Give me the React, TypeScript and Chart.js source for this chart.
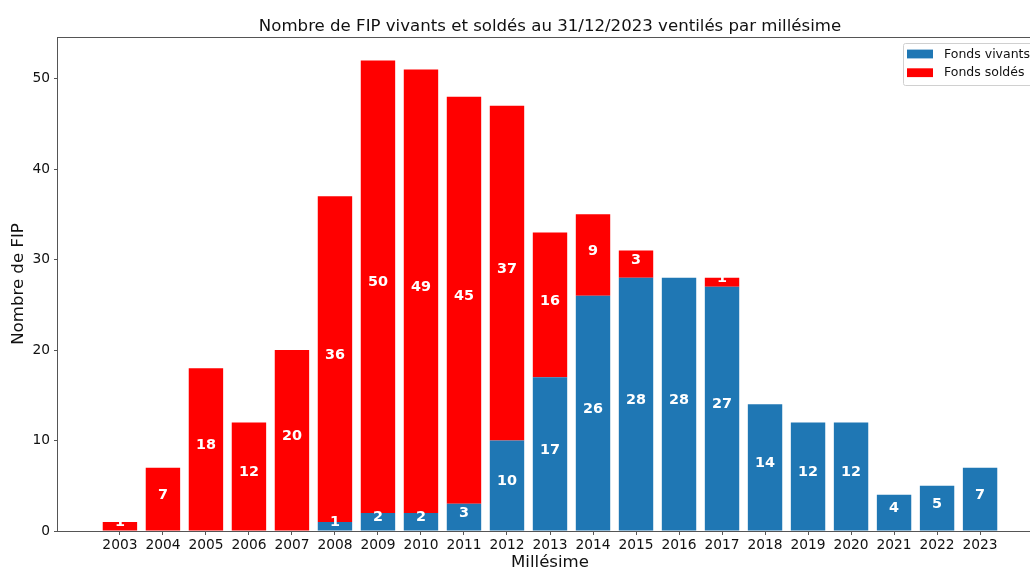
import React, { useEffect, useRef } from "react";
import { Chart, registerables } from "chart.js";

Chart.register(...registerables);

// ---- Data ----
const years = [2003, 2004, 2005, 2006, 2007, 2008, 2009, 2010, 2011, 2012, 2013, 2014, 2015, 2016, 2017, 2018, 2019, 2020, 2021, 2022, 2023];
const vivants = [0, 0, 0, 0, 0, 1, 2, 2, 3, 10, 17, 26, 28, 28, 27, 14, 12, 12, 4, 5, 7];
const soldes = [1, 7, 18, 12, 20, 36, 50, 49, 45, 37, 16, 9, 3, 0, 1, 0, 0, 0, 0, 0, 0];
const yTicks = [0, 10, 20, 30, 40, 50];
const seriesLabels = ["Fonds vivants", "Fonds soldés"];
const seriesColors = ["#1f77b4", "#ff0000"];
const chartTitle = "Nombre de FIP vivants et soldés au 31/12/2023 ventilés par millésime";
const xTitle = "Millésime";
const yTitle = "Nombre de FIP";

const FONT = '"DejaVu Sans", "Liberation Sans", sans-serif';
const CW = 1060;
const CH = 575;

const decorPlugin = {
  id: "decor",
  afterDatasetsDraw(chart: any) {
    const ctx = chart.ctx as CanvasRenderingContext2D;
    const { left, right, top, bottom } = chart.chartArea;
    ctx.save();

    // value labels
    ctx.font = `bold 14.4px ${FONT}`;
    ctx.fillStyle = "#ffffff";
    ctx.textAlign = "center";
    ctx.textBaseline = "middle";
    chart.data.datasets.forEach((ds: any, i: number) => {
      const meta = chart.getDatasetMeta(i);
      meta.data.forEach((bar: any, j: number) => {
        const v = ds.data[j].y;
        if (!v) return;
        const p = bar.getProps(["x", "y", "base"], true);
        ctx.fillText(String(v), p.x, (p.y + p.base) / 2 - 4);
      });
    });

    // spines
    ctx.strokeStyle = "#555";
    ctx.lineWidth = 1;
    ctx.strokeRect(Math.round(left) - 0.5, Math.round(top) + 0.5, Math.round(right - left), Math.round(bottom - top));

    // title
    ctx.fillStyle = "#111";
    ctx.font = `16.6px ${FONT}`;
    ctx.textAlign = "center";
    ctx.textBaseline = "alphabetic";
    ctx.fillText(chartTitle, (left + right) / 2, top - 6);

    // legend
    const bx = right - 139;
    const by = top + 6;
    const bw = 133;
    const bh = 42;
    ctx.fillStyle = "rgba(255,255,255,0.85)";
    ctx.strokeStyle = "#d0d0d0";
    ctx.beginPath();
    (ctx as any).roundRect(bx + 0.5, by + 0.5, bw, bh, 2);
    ctx.fill();
    ctx.stroke();
    ctx.font = `12.5px ${FONT}`;
    ctx.textAlign = "left";
    ctx.textBaseline = "middle";
    seriesLabels.forEach((lab, i) => {
      const cy = by + 11 + i * 18.7;
      ctx.fillStyle = seriesColors[i];
      ctx.fillRect(bx + 4, cy - 4.4, 26, 8.8);
      ctx.fillStyle = "#111";
      ctx.fillText(lab, bx + 41, cy + 0.5);
    });

    ctx.restore();
  },
};

export default function App() {
  const ref = useRef<HTMLCanvasElement | null>(null);

  useEffect(() => {
    document.body.style.margin = "0";
    document.documentElement.style.overflow = "hidden";
    const canvas = ref.current;
    if (!canvas) return;

    const lo = years[0] - 0.4;
    const hi = years[years.length - 1] + 0.4;
    const xm = 0.05 * (hi - lo);
    const maxTotal = Math.max(...years.map((_, i) => vivants[i] + soldes[i]));

    const chart = new Chart(canvas, {
      type: "bar",
      data: {
        datasets: [
          {
            label: seriesLabels[0],
            data: years.map((y, i) => ({ x: y, y: vivants[i] })),
            backgroundColor: seriesColors[0],
            borderWidth: 0,
            categoryPercentage: 1,
            barPercentage: 0.8,
          },
          {
            label: seriesLabels[1],
            data: years.map((y, i) => ({ x: y, y: soldes[i] })),
            backgroundColor: seriesColors[1],
            borderWidth: 0,
            categoryPercentage: 1,
            barPercentage: 0.8,
          },
        ],
      },
      options: {
        responsive: false,
        animation: false,
        layout: { padding: { left: 0, top: 37, right: CW - 1042, bottom: 0 } },
        plugins: {
          legend: { display: false },
          title: { display: false },
          tooltip: { enabled: false },
        },
        scales: {
          x: {
            type: "linear",
            stacked: true,
            min: lo - xm,
            max: hi + xm,
            offset: false,
            afterBuildTicks: (scale: any) => {
              scale.ticks = years.map((v) => ({ value: v }));
            },
            afterFit: (scale: any) => {
              scale.height = CH - 531;
            },
            ticks: {
              autoSkip: false,
              maxRotation: 0,
              padding: 2,
              color: "#111",
              font: { family: FONT, size: 13.8 },
              callback: (v: any) => String(v),
            },
            grid: { display: true, offset: false, drawOnChartArea: false, drawTicks: true, tickLength: 4, color: "#555" },
            border: { display: false },
            title: {
              display: true,
              text: xTitle,
              color: "#111",
              font: { family: FONT, size: 16.6, lineHeight: 1.2 },
              padding: { top: 0, bottom: 2.5 },
            },
          },
          y: {
            stacked: true,
            min: 0,
            max: maxTotal * 1.05,
            afterBuildTicks: (scale: any) => {
              scale.ticks = yTicks.map((v) => ({ value: v }));
            },
            afterFit: (scale: any) => {
              scale.width = 58;
            },
            ticks: {
              padding: 4,
              color: "#111",
              font: { family: FONT, size: 13.8 },
              callback: (v: any) => String(v),
            },
            grid: { display: true, offset: false, drawOnChartArea: false, drawTicks: true, tickLength: 4, color: "#555" },
            border: { display: false },
            title: {
              display: true,
              text: yTitle,
              color: "#111",
              font: { family: FONT, size: 16.6, lineHeight: 1.2 },
              padding: { top: 8.3, bottom: 0 },
            },
          },
        },
      },
      plugins: [decorPlugin],
    } as any);

    return () => chart.destroy();
  }, []);

  return (
    <div style={{ width: 1030, height: 568, overflow: "hidden", position: "relative", background: "#fff" }}>
      <canvas ref={ref} width={CW} height={CH} style={{ display: "block" }} />
    </div>
  );
}
